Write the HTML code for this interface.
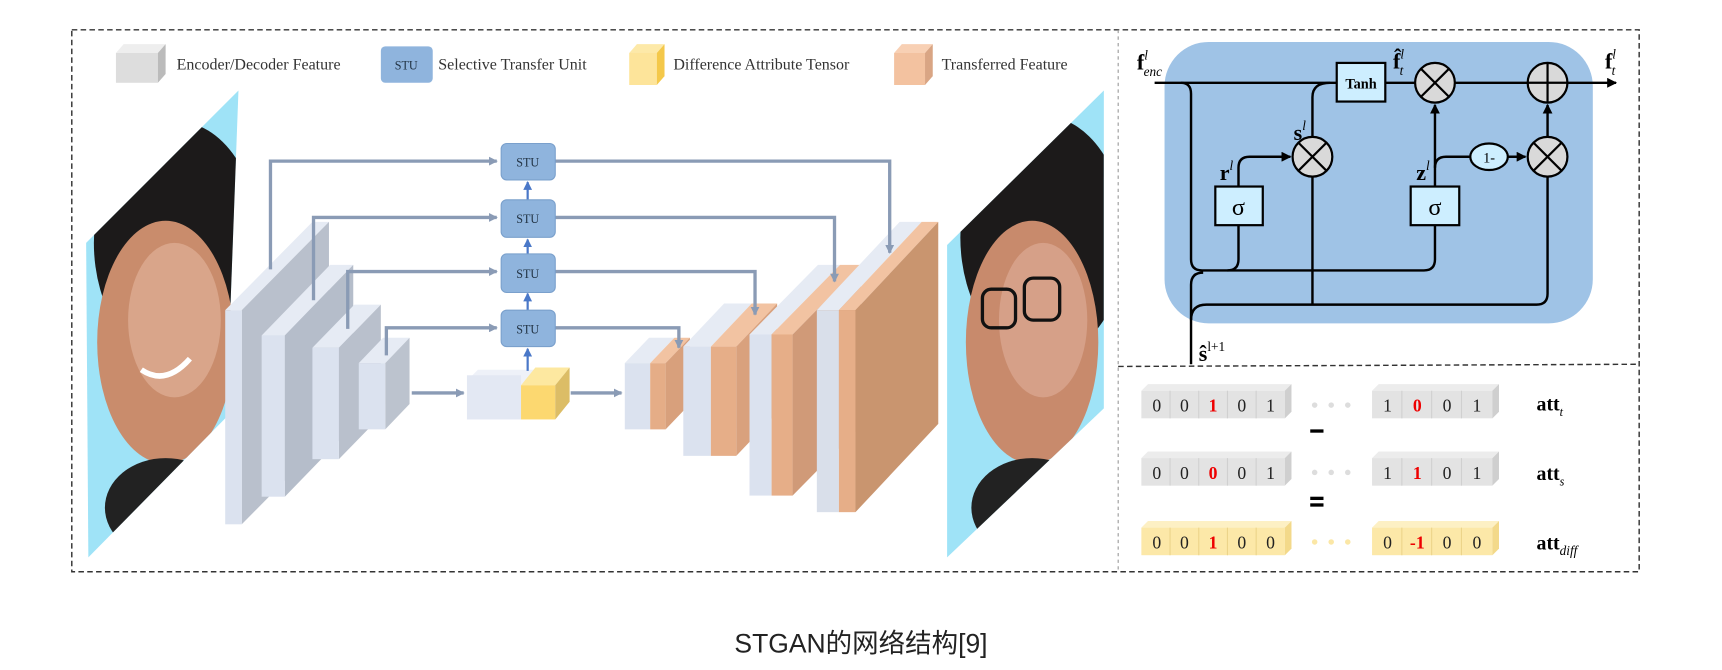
<!DOCTYPE html>
<html><head><meta charset="utf-8"><style>
html,body{margin:0;padding:0;background:#fff;}
svg{display:block;}
</style></head><body>
<svg width="1722" height="670" viewBox="0 0 1560 607" xmlns="http://www.w3.org/2000/svg" font-family="Liberation Serif, serif">
<defs>
<marker id="ag" markerWidth="8" markerHeight="8" refX="7" refY="4" orient="auto" markerUnits="userSpaceOnUse"><path d="M0,0 L8,4 L0,8 z" fill="#8a9bb5"/></marker>
<marker id="ab" markerWidth="8" markerHeight="8" refX="7" refY="4" orient="auto" markerUnits="userSpaceOnUse"><path d="M0,0 L8,4 L0,8 z" fill="#4a78c8"/></marker>
<marker id="ak" markerWidth="9" markerHeight="9" refX="8" refY="4.5" orient="auto" markerUnits="userSpaceOnUse"><path d="M0,0 L9,4.5 L0,9 z" fill="#000"/></marker>
<clipPath id="cf1"><polygon points="78,220 216,82 205,378 80,505"/></clipPath>
<clipPath id="cf2"><polygon points="858,222 1000,82 1000,370 858,505"/></clipPath>
</defs>

<rect x="65" y="27" width="1420" height="491" fill="none" stroke="#333" stroke-width="1.3" stroke-dasharray="5,3"/>
<line x1="1013" y1="27" x2="1013" y2="518" stroke="#999" stroke-width="1" stroke-dasharray="3,3"/>
<line x1="1013" y1="332" x2="1485" y2="330" stroke="#333" stroke-width="1.3" stroke-dasharray="5,3"/>

<polygon points="105,48 112,40 150,40 143,48" fill="#eee"/>
<rect x="105" y="48" width="38" height="27" fill="#ddd"/>
<polygon points="143,48 150,40 150,67 143,75" fill="#bbb"/>
<text x="160" y="63" font-size="14.5" fill="#333">Encoder/Decoder Feature</text>
<rect x="345" y="42" width="47" height="33" rx="4" fill="#8fb4dd"/>
<text x="368" y="63" font-size="11" text-anchor="middle" fill="#234">STU</text>
<text x="397" y="63" font-size="14.5" fill="#333">Selective Transfer Unit</text>
<polygon points="570,48 577,40 602,40 595,48" fill="#fde9a8"/>
<rect x="570" y="48" width="25" height="29" fill="#fde49a"/>
<polygon points="595,48 602,40 602,69 595,77" fill="#f4c84a"/>
<text x="610" y="63" font-size="14.5" fill="#333">Difference Attribute Tensor</text>
<polygon points="810,48 817,40 845,40 838,48" fill="#f8d0b4"/>
<rect x="810" y="48" width="28" height="29" fill="#f3c2a0"/>
<polygon points="838,48 845,40 845,69 838,77" fill="#d9a584"/>
<text x="853" y="63" font-size="14.5" fill="#333">Transferred Feature</text>

<polygon points="78,220 216,82 205,378 80,505" fill="#9fe3f7"/>
<g clip-path="url(#cf1)">
<ellipse cx="160" cy="220" rx="75" ry="110" fill="#1c1a1a"/>
<ellipse cx="150" cy="310" rx="62" ry="110" fill="#c98c6c"/>
<ellipse cx="158" cy="290" rx="42" ry="70" fill="#d9a58a"/>
<path d="M128,335 Q150,350 172,325" stroke="#fff" stroke-width="5" fill="none"/>
<ellipse cx="150" cy="460" rx="55" ry="45" fill="#222"/>
</g>
<polygon points="858,222 1000,82 1000,370 858,505" fill="#9fe3f7"/>
<g clip-path="url(#cf2)">
<ellipse cx="945" cy="215" rx="75" ry="110" fill="#1c1a1a"/>
<ellipse cx="935" cy="310" rx="60" ry="110" fill="#c88a6c"/>
<ellipse cx="945" cy="290" rx="40" ry="70" fill="#d6a088"/>
<rect x="890" y="262" width="30" height="35" rx="8" fill="none" stroke="#111" stroke-width="3"/>
<rect x="928" y="252" width="32" height="38" rx="8" fill="none" stroke="#111" stroke-width="3"/>
<ellipse cx="935" cy="460" rx="55" ry="45" fill="#222"/>
</g>

<g>
<polygon points="204,281 283,201 298,201 219,281" fill="#e6ebf4"/>
<polygon points="219,281 298,201 298,395 219,475" fill="#b9c0cc"/>
<rect x="204" y="281" width="15" height="194" fill="#dbe2ef"/>
<polygon points="237,304 299,240 320,240 258,304" fill="#e6ebf4"/>
<polygon points="258,304 320,240 320,386 258,450" fill="#b5bdca"/>
<rect x="237" y="304" width="21" height="146" fill="#dbe2ef"/>
<polygon points="283,315 321,276 345,276 307,315" fill="#e6ebf4"/>
<polygon points="307,315 345,276 345,377 307,416" fill="#b9c0cc"/>
<rect x="283" y="315" width="24" height="101" fill="#dbe2ef"/>
<polygon points="325,329 347,306 371,306 349,329" fill="#e6ebf4"/>
<polygon points="349,329 371,306 371,366 349,389" fill="#bcc3ce"/>
<rect x="325" y="329" width="24" height="60" fill="#dbe2ef"/>
</g>

<polygon points="423,345 433,335 485,335 472,349" fill="#eef1f8"/>
<rect x="423" y="340" width="49" height="40" fill="#e3e8f3"/>
<polygon points="472,349 485,333 516,333 503,349" fill="#fde8a0"/>
<rect x="472" y="349" width="31" height="31" fill="#fcd870"/>
<polygon points="503,349 516,333 516,364 503,380" fill="#dcbd66"/>

<g>
<polygon points="566,329 588,306 611,306 589,329" fill="#e6ebf4"/>
<rect x="566" y="329" width="23" height="60" fill="#dbe2ef"/>
<polygon points="589,329 611,306 625,306 603,329" fill="#f2c3a2"/>
<rect x="589" y="329" width="14" height="60" fill="#e5ad87"/>
<polygon points="603,329 625,306 625,366 603,389" fill="#d8a07c"/>
<polygon points="619,314 656,275 681,275 644,314" fill="#e6ebf4"/>
<rect x="619" y="314" width="25" height="99" fill="#dbe2ef"/>
<polygon points="644,314 681,275 704,275 667,314" fill="#f2c3a2"/>
<rect x="644" y="314" width="23" height="99" fill="#e6ae88"/>
<polygon points="667,314 704,275 704,374 667,413" fill="#d9a17d"/>
<polygon points="679,303 741,240 761,240 699,303" fill="#e6ebf4"/>
<rect x="679" y="303" width="20" height="146" fill="#dbe2ef"/>
<polygon points="699,303 761,240 780,240 718,303" fill="#f2c3a2"/>
<rect x="699" y="303" width="19" height="146" fill="#e6ae88"/>
<polygon points="718,303 780,240 780,386 718,449" fill="#d09a78"/>
<polygon points="740,281 815,201 835,201 760,281" fill="#e6ebf4"/>
<rect x="740" y="281" width="20" height="183" fill="#d9dfea"/>
<polygon points="760,281 835,201 850,201 775,281" fill="#f2c3a2"/>
<rect x="760" y="281" width="15" height="183" fill="#e6ae88"/>
<polygon points="775,281 850,201 850,384 775,464" fill="#c9956f"/>
</g>

<g stroke="#8a9bb5" stroke-width="3" fill="none">
<path d="M245,244 V146 H450" marker-end="url(#ag)"/>
<path d="M503,146 H806 V229" marker-end="url(#ag)"/>
<path d="M284,272 V197 H450" marker-end="url(#ag)"/>
<path d="M503,197 H756 V255" marker-end="url(#ag)"/>
<path d="M315,298 V246 H450" marker-end="url(#ag)"/>
<path d="M503,246 H684 V285" marker-end="url(#ag)"/>
<path d="M350,322 V297 H450" marker-end="url(#ag)"/>
<path d="M503,297 H615 V315" marker-end="url(#ag)"/>
<path d="M373,356 H420" marker-end="url(#ag)"/>
<path d="M517,356 H563" marker-end="url(#ag)"/>
</g>
<g stroke="#4a78c8" stroke-width="2" fill="none">
<path d="M478,336 V316" marker-end="url(#ab)"/>
<path d="M478,281 V266" marker-end="url(#ab)"/>
<path d="M478,230 V217" marker-end="url(#ab)"/>
<path d="M478,181 V165" marker-end="url(#ab)"/>
</g>
<g font-size="11" text-anchor="middle" fill="#234">
<rect x="454" y="130" width="49" height="33" rx="5" fill="#8fb4dd" stroke="#7aa0cc"/>
<text x="478" y="151">STU</text>
<rect x="454" y="181" width="49" height="34" rx="5" fill="#8fb4dd" stroke="#7aa0cc"/>
<text x="478" y="202">STU</text>
<rect x="454" y="230" width="49" height="35" rx="5" fill="#8fb4dd" stroke="#7aa0cc"/>
<text x="478" y="252">STU</text>
<rect x="454" y="281" width="49" height="33" rx="5" fill="#8fb4dd" stroke="#7aa0cc"/>
<text x="478" y="302">STU</text>
</g>

<rect x="1055" y="38" width="388" height="255" rx="40" fill="#9fc3e6"/>
<g stroke="#000" stroke-width="2.2" fill="none">
<path d="M1046,75 H1464" marker-end="url(#ak)"/>
<path d="M1070,75 Q1079,75 1079,85 V235 Q1079,245 1089,245 H1290 Q1300,245 1300,235 V204"/>
<path d="M1122,204 V235 Q1122,245 1112,245"/>
<path d="M1122,169 V152 Q1122,142 1132,142 H1169" marker-end="url(#ak)"/>
<path d="M1189,124 V88 Q1189,75 1205,75"/>
<path d="M1189,160 V276"/>
<path d="M1079,330 V258 Q1079,247 1090,247"/>
<path d="M1079,290 Q1079,276 1093,276 H1392 Q1402,276 1402,266 V160"/>
<path d="M1300,169 V95" marker-end="url(#ak)"/>
<path d="M1300,152 Q1300,142 1310,142 H1332"/>
<path d="M1366,142 H1382" marker-end="url(#ak)"/>
<path d="M1402,124 V95" marker-end="url(#ak)"/>
</g>
<rect x="1211" y="57" width="44" height="35" fill="#cdeeff" stroke="#000" stroke-width="2"/>
<text x="1233" y="80" font-size="13" font-weight="bold" text-anchor="middle">Tanh</text>
<rect x="1101" y="169" width="43" height="35" fill="#cdeeff" stroke="#000" stroke-width="2"/>
<text x="1122" y="195" font-size="22" text-anchor="middle">σ</text>
<rect x="1278" y="169" width="44" height="35" fill="#cdeeff" stroke="#000" stroke-width="2"/>
<text x="1300" y="195" font-size="22" text-anchor="middle">σ</text>
<g stroke="#000" stroke-width="2" fill="#d9d9d9">
<circle cx="1300" cy="75" r="18"/>
<circle cx="1402" cy="75" r="18"/>
<circle cx="1189" cy="142" r="18"/>
<circle cx="1402" cy="142" r="18"/>
<ellipse cx="1349" cy="142" rx="17" ry="12" fill="#cdeeff"/>
</g>
<g stroke="#000" stroke-width="2">
<path d="M1287,62 L1313,88 M1313,62 L1287,88"/>
<path d="M1176,129 L1202,155 M1202,129 L1176,155"/>
<path d="M1389,129 L1415,155 M1415,129 L1389,155"/>
<path d="M1402,57 V93 M1384,75 H1420"/>
</g>
<text x="1349" y="147" font-size="13" text-anchor="middle">1-</text>
<g font-weight="bold" font-size="20">
<text x="1030" y="63">f<tspan font-size="12" font-style="italic" font-weight="normal" dy="-9">l</tspan><tspan font-size="12" font-style="italic" font-weight="normal" dx="-4" dy="15">enc</tspan></text>
<text x="1262" y="62">f̂<tspan font-size="12" font-style="italic" font-weight="normal" dy="-9">l</tspan><tspan font-size="12" font-style="italic" font-weight="normal" dx="-4" dy="15">t</tspan></text>
<text x="1454" y="62">f<tspan font-size="12" font-style="italic" font-weight="normal" dy="-9">l</tspan><tspan font-size="12" font-style="italic" font-weight="normal" dx="-4" dy="15">t</tspan></text>
<text x="1172" y="127">s<tspan font-size="12" font-style="italic" font-weight="normal" dy="-9">l</tspan></text>
<text x="1105" y="163">r<tspan font-size="12" font-style="italic" font-weight="normal" dy="-9">l</tspan></text>
<text x="1283" y="163">z<tspan font-size="12" font-style="italic" font-weight="normal" dy="-9">l</tspan></text>
<text x="1086" y="327">ŝ<tspan font-size="12" font-weight="normal" dy="-9">l+1</tspan></text>
</g>

<g font-size="16">
<g transform="translate(0,348)">
<polygon points="1034,6 1040,0 1170,0 1164,6" fill="#ececec"/>
<rect x="1034" y="6" width="130" height="25" fill="#e3e3e3"/>
<polygon points="1164,6 1170,0 1170,25 1164,31" fill="#cfcfcf"/>
<polygon points="1243,6 1249,0 1358,0 1352,6" fill="#ececec"/>
<rect x="1243" y="6" width="109" height="25" fill="#e3e3e3"/>
<polygon points="1352,6 1358,0 1358,25 1352,31" fill="#cfcfcf"/>
</g>
<g transform="translate(0,409)">
<polygon points="1034,6 1040,0 1170,0 1164,6" fill="#ececec"/>
<rect x="1034" y="6" width="130" height="25" fill="#e3e3e3"/>
<polygon points="1164,6 1170,0 1170,25 1164,31" fill="#cfcfcf"/>
<polygon points="1243,6 1249,0 1358,0 1352,6" fill="#ececec"/>
<rect x="1243" y="6" width="109" height="25" fill="#e3e3e3"/>
<polygon points="1352,6 1358,0 1358,25 1352,31" fill="#cfcfcf"/>
</g>
<g transform="translate(0,472)">
<polygon points="1034,6 1040,0 1170,0 1164,6" fill="#fdf0c4"/>
<rect x="1034" y="6" width="130" height="25" fill="#fce8a8"/>
<polygon points="1164,6 1170,0 1170,25 1164,31" fill="#f3d98a"/>
<polygon points="1243,6 1249,0 1358,0 1352,6" fill="#fdf0c4"/>
<rect x="1243" y="6" width="109" height="25" fill="#fce8a8"/>
<polygon points="1352,6 1358,0 1358,25 1352,31" fill="#f3d98a"/>
</g>
<g stroke="#d0d0d0" stroke-width="1">
<path d="M1060,354 V379 M1086,354 V379 M1112,354 V379 M1138,354 V379 M1270,354 V379 M1297,354 V379 M1324,354 V379"/>
<path d="M1060,415 V440 M1086,415 V440 M1112,415 V440 M1138,415 V440 M1270,415 V440 M1297,415 V440 M1324,415 V440"/>
<path d="M1060,478 V503 M1086,478 V503 M1112,478 V503 M1138,478 V503 M1270,478 V503 M1297,478 V503 M1324,478 V503" stroke="#ecd48a"/>
</g>
<g text-anchor="middle" fill="#222">
<text x="1048" y="373">0</text><text x="1073" y="373">0</text><text x="1099" y="373" fill="#e00" font-weight="bold">1</text><text x="1125" y="373">0</text><text x="1151" y="373">1</text>
<text x="1257" y="373">1</text><text x="1284" y="373" fill="#e00" font-weight="bold">0</text><text x="1311" y="373">0</text><text x="1338" y="373">1</text>
<text x="1048" y="434">0</text><text x="1073" y="434">0</text><text x="1099" y="434" fill="#e00" font-weight="bold">0</text><text x="1125" y="434">0</text><text x="1151" y="434">1</text>
<text x="1257" y="434">1</text><text x="1284" y="434" fill="#e00" font-weight="bold">1</text><text x="1311" y="434">0</text><text x="1338" y="434">1</text>
<text x="1048" y="497">0</text><text x="1073" y="497">0</text><text x="1099" y="497" fill="#e00" font-weight="bold">1</text><text x="1125" y="497">0</text><text x="1151" y="497">0</text>
<text x="1257" y="497">0</text><text x="1284" y="497" fill="#e00" font-weight="bold">-1</text><text x="1311" y="497">0</text><text x="1338" y="497">0</text>
</g>
</g>
<g fill="#ddd"><circle cx="1191" cy="367" r="2.5"/><circle cx="1206" cy="367" r="2.5"/><circle cx="1221" cy="367" r="2.5"/>
<circle cx="1191" cy="428" r="2.5"/><circle cx="1206" cy="428" r="2.5"/><circle cx="1221" cy="428" r="2.5"/></g>
<g fill="#fbe7a6"><circle cx="1191" cy="491" r="2.5"/><circle cx="1206" cy="491" r="2.5"/><circle cx="1221" cy="491" r="2.5"/></g>
<rect x="1187" y="389" width="12" height="3" fill="#000"/>
<rect x="1187" y="450" width="12" height="3" fill="#000"/>
<rect x="1187" y="456" width="12" height="3" fill="#000"/>
<g font-weight="bold" font-size="18">
<text x="1392" y="372">att<tspan font-size="11" font-style="italic" font-weight="normal" dy="5">t</tspan></text>
<text x="1392" y="435">att<tspan font-size="11" font-style="italic" font-weight="normal" dy="5">s</tspan></text>
<text x="1392" y="498">att<tspan font-size="12" font-style="italic" font-weight="normal" dy="5">diff</tspan></text>
</g>

<text x="780" y="591" font-family="Liberation Sans, Noto Sans CJK SC, sans-serif" font-size="24" text-anchor="middle" fill="#222">STGAN的网络结构[9]</text>
</svg>
</body></html>
